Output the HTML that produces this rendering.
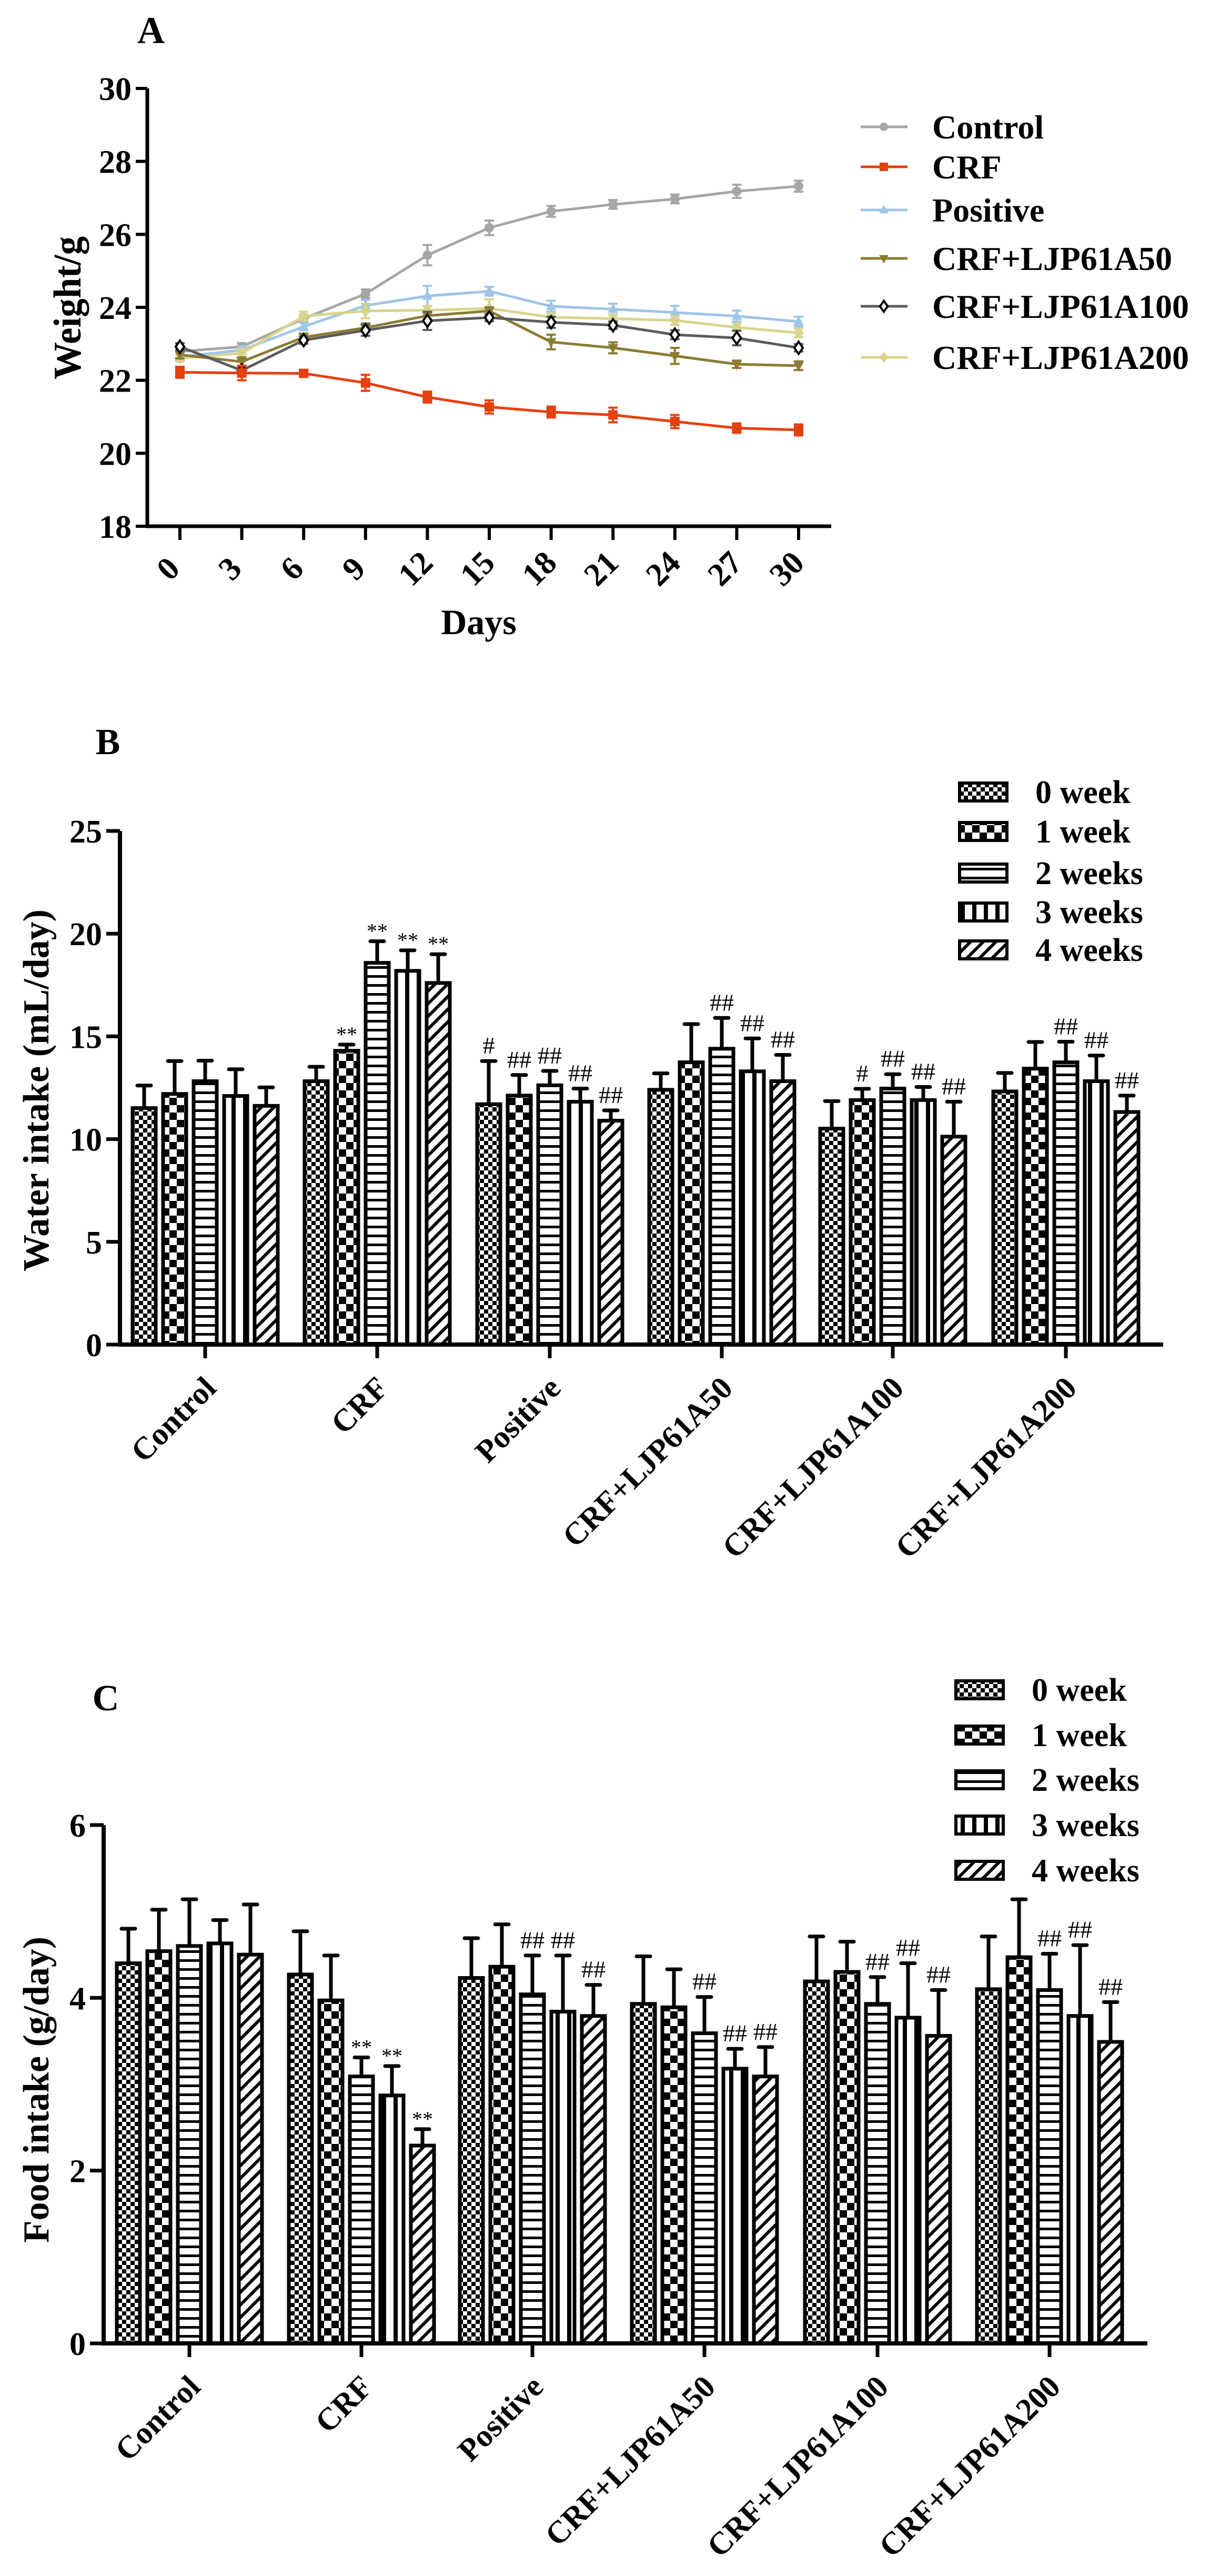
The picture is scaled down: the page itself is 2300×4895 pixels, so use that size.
<!DOCTYPE html>
<html><head><meta charset="utf-8"><style>
html,body{margin:0;padding:0;background:#fff}
svg{display:block}
text{font-family:"Liberation Serif",serif;font-weight:bold;fill:#000}
</style></head><body>
<svg id="fig" xmlns="http://www.w3.org/2000/svg" width="2300" height="4895" viewBox="0 0 2300 4895">
<defs>
<pattern id="p0" patternUnits="userSpaceOnUse" width="16" height="16"><rect width="16" height="16" fill="#fff"/><rect width="8" height="8" fill="#000"/><rect x="8" y="8" width="8" height="8" fill="#000"/></pattern>
<pattern id="p1" patternUnits="userSpaceOnUse" width="28" height="28"><rect width="28" height="28" fill="#fff"/><rect width="14" height="14" fill="#000"/><rect x="14" y="14" width="14" height="14" fill="#000"/></pattern>
<pattern id="p2" patternUnits="userSpaceOnUse" width="17" height="17"><rect width="17" height="17" fill="#fff"/><rect width="17" height="5" fill="#000"/></pattern>
<pattern id="p3" patternUnits="userSpaceOnUse" width="22" height="22"><rect width="22" height="22" fill="#fff"/><rect width="8" height="22" fill="#000"/></pattern>
<pattern id="p4" patternUnits="userSpaceOnUse" width="17" height="17" patternTransform="rotate(45)"><rect width="17" height="17" fill="#fff"/><rect width="6" height="17" fill="#000"/></pattern>
</defs>
</svg>
<script>
// ---------- Panel A data ----------
const daysA = [0,3,6,9,12,15,18,21,24,27,30];
const yTicksA = [18,20,22,24,26,28,30];
const seriesNamesA = ["Control","CRF","Positive","CRF+LJP61A50","CRF+LJP61A100","CRF+LJP61A200"];
const controlA = [22.79,22.92,23.69,24.37,25.43,26.18,26.63,26.82,26.97,27.18,27.32];
const crfA = [22.22,22.20,22.19,21.93,21.54,21.27,21.13,21.05,20.87,20.69,20.64];
const positiveA = [22.64,22.83,23.47,24.05,24.31,24.44,24.03,23.95,23.86,23.76,23.61];
const a50A = [22.70,22.51,23.18,23.44,23.77,23.90,23.05,22.89,22.67,22.44,22.40];
const a100A = [22.92,22.27,23.10,23.37,23.63,23.72,23.59,23.51,23.25,23.16,22.89];
const a200A = [22.61,22.74,23.76,23.90,23.92,23.97,23.73,23.69,23.64,23.45,23.30];
const controlErrA = [0.08,0.1,0.1,0.12,0.28,0.2,0.15,0.12,0.12,0.18,0.15];
const crfErrA = [0.15,0.2,0.08,0.22,0.15,0.18,0.15,0.2,0.18,0.13,0.15];
const positiveErrA = [0.1,0.1,0.1,0.15,0.28,0.12,0.15,0.15,0.18,0.15,0.13];
const a50ErrA = [0.1,0.12,0.1,0.12,0.1,0.1,0.2,0.15,0.22,0.1,0.12];
const a100ErrA = [0.1,0.12,0.1,0.15,0.25,0.1,0.15,0.1,0.12,0.2,0.1];
const a200ErrA = [0.1,0.12,0.12,0.2,0.12,0.25,0.1,0.1,0.12,0.1,0.12];

// ---------- Panel B/C shared ----------
const groups = ["Control","CRF","Positive","CRF+LJP61A50","CRF+LJP61A100","CRF+LJP61A200"];
const weeks = ["0 week","1 week","2 weeks","3 weeks","4 weeks"];

// ---------- Panel B data (rows = group, cols = week) ----------
const yTicksB = [0,5,10,15,20,25];
const waterB = [
 [11.51,12.2,12.82,12.1,11.62],
 [12.82,14.3,18.58,18.19,17.6],
 [11.7,12.12,12.62,11.82,10.9],
 [12.4,13.74,14.4,13.3,12.82],
 [10.51,11.9,12.46,11.9,10.12],
 [12.32,13.43,13.74,12.82,11.32]];
const waterErrB = [
 [1.1,1.6,1.0,1.3,0.9],
 [0.7,0.3,1.05,1.0,1.4],
 [2.1,1.0,0.7,0.64,0.5],
 [0.8,1.86,1.5,1.6,1.28],
 [1.34,0.55,0.7,0.64,1.7],
 [0.9,1.3,1.0,1.25,0.8]];
const waterSigB = [
 ["","","","",""],
 ["","**","**","**","**"],
 ["#","##","##","##","##"],
 ["","","##","##","##"],
 ["","#","##","##","##"],
 ["","","##","##","##"]];

// ---------- Panel C data ----------
const yTicksC = [0,2,4,6];
const foodC = [
 [4.4,4.54,4.6,4.63,4.5],
 [4.27,3.97,3.09,2.87,2.29],
 [4.23,4.36,4.04,3.84,3.79],
 [3.93,3.89,3.59,3.18,3.09],
 [4.19,4.3,3.93,3.77,3.56],
 [4.1,4.47,4.09,3.79,3.49]];
const foodErrC = [
 [0.4,0.48,0.54,0.27,0.58],
 [0.5,0.52,0.22,0.34,0.19],
 [0.46,0.49,0.45,0.65,0.36],
 [0.55,0.44,0.42,0.23,0.34],
 [0.52,0.35,0.31,0.63,0.53],
 [0.61,0.67,0.42,0.82,0.46]];
const foodSigC = [
 ["","","","",""],
 ["","","**","**","**"],
 ["","","##","##","##"],
 ["","","##","##","##"],
 ["","","##","##","##"],
 ["","","##","##","##"]];

const NS = "http://www.w3.org/2000/svg";
const svg = document.getElementById('fig');
function el(tag, attrs, parent, txt){
  const e = document.createElementNS(NS, tag);
  for (const k in attrs) e.setAttribute(k, attrs[k]);
  if (txt !== undefined) e.textContent = txt;
  (parent || svg).appendChild(e);
  return e;
}

// ================= PANEL A =================
(function(){
  const g = el('g', {});
  
  
  const x0=280, x1=1580, yTop=168, yBot=1000, ymin=18, ymax=30;
  const dx0=342, dx1=1518;
  const X = d => dx0 + (d - daysA[0])/(daysA[daysA.length-1]-daysA[0])*(dx1-dx0);
  const Y = v => yBot - (v-ymin)/(ymax-ymin)*(yBot-yTop);
  let t = el('text',{x:287,y:82,'font-size':72,'text-anchor':'middle'},g,'A');
   
  let ax = el('path',{d:`M${x0} ${yTop} V${yBot} H${x1}`,stroke:'#000','stroke-width':7,fill:'none'},g);
   
  yTicksA.forEach(v=>{
    el('line',{x1:x0-22,x2:x0,y1:Y(v),y2:Y(v),stroke:'#000','stroke-width':6},g);
    const tt = el('text',{x:x0-30,y:Y(v)+22,'font-size':62,'text-anchor':'end'},g,String(v));
     
  });
  daysA.forEach(d=>{
    el('line',{x1:X(d),x2:X(d),y1:yBot,y2:yBot+26,stroke:'#000','stroke-width':6},g);
    const tt = el('text',{x:0,y:0,'font-size':62,'text-anchor':'middle',transform:`translate(${X(d)-8},${yBot+95}) rotate(-45)`},g,String(d));
     
  });
  t = el('text',{x:0,y:0,'font-size':74,'text-anchor':'middle',textLength:272,lengthAdjust:'spacingAndGlyphs',transform:'translate(153,585) rotate(-90)'},g,'Weight/g');
   
  t = el('text',{x:910,y:1205,'font-size':68,'text-anchor':'middle'},g,'Days');
   

  const vals=[controlA,crfA,positiveA,a50A,a100A,a200A];
  const errs=[controlErrA,crfErrA,positiveErrA,a50ErrA,a100ErrA,a200ErrA];
  const colors=['#a6a6a6','#e5400f','#9fc5e8','#8c7b32','#5b5b5b','#d8d48e'];
  const shapes=['circle','square','tri','tridown','diamondOpen','diamond'];
  const drawOrder=[0,2,5,3,4,1];
  function marker(parent,shape,cx,cy,col,s){
    let m;
    if(shape==='circle') m=el('circle',{cx,cy,r:s,fill:col},parent);
    else if(shape==='square') m=el('rect',{x:cx-s,y:cy-s,width:2*s,height:2*s,fill:col},parent);
    else if(shape==='tri') m=el('path',{d:`M${cx} ${cy-s*1.2} L${cx+s*1.1} ${cy+s*0.8} L${cx-s*1.1} ${cy+s*0.8}Z`,fill:col},parent);
    else if(shape==='tridown') m=el('path',{d:`M${cx} ${cy+s*1.2} L${cx+s*1.1} ${cy-s*0.8} L${cx-s*1.1} ${cy-s*0.8}Z`,fill:col},parent);
    else if(shape==='diamondOpen') m=el('path',{d:`M${cx} ${cy-s*1.3} L${cx+s*0.9} ${cy} L${cx} ${cy+s*1.3} L${cx-s*0.9} ${cy}Z`,fill:'#fff',stroke:'#000','stroke-width':4},parent);
    else m=el('path',{d:`M${cx} ${cy-s*1.3} L${cx+s*1.1} ${cy} L${cx} ${cy+s*1.3} L${cx-s*1.1} ${cy}Z`,fill:col},parent);
    return m;
  }
  drawOrder.forEach(si=>{
    const sg = el('g',{},g);
    
    
    const col=colors[si];
    const pts = daysA.map((d,i)=>`${X(d)},${Y(vals[si][i])}`).join(' ');
    el('polyline',{points:pts,fill:'none',stroke:col,'stroke-width':5},sg);
    daysA.forEach((d,i)=>{
      const v=vals[si][i], e=errs[si][i];
      el('path',{d:`M${X(d)} ${Y(v+e)} V${Y(v-e)} M${X(d)-9} ${Y(v+e)} H${X(d)+9} M${X(d)-9} ${Y(v-e)} H${X(d)+9}`,stroke:col,'stroke-width':4,fill:'none'},sg);
      const m = marker(sg,shapes[si],X(d),Y(v),col,9);
       
    });
  });
  const legY=[241,317,399,491,582,679];
  seriesNamesA.forEach((n,i)=>{
    const lg = el('g',{},g);
     
    el('line',{x1:1636,x2:1725,y1:legY[i],y2:legY[i],stroke:colors[i],'stroke-width':5},lg);
    marker(lg,shapes[i],1680,legY[i],colors[i],8);
    el('text',{x:1772,y:legY[i]+22,'font-size':64},lg,n);
  });
})();

// ================= BAR PANELS =================
function barPanel(cfg){
  const g = el('g',{});
  
  
  const {axX, axEnd, y0, yTop, vmax, ticks, centers, vals, errs, sigs} = cfg;
  const Y = v => y0 - v/vmax*(y0-yTop);
  let t = el('text',{x:cfg.letter[1],y:cfg.letter[2],'font-size':70,'text-anchor':'middle'},g,cfg.letter[0]);
   
  const pats=['p0','p1','p2','p3','p4'];
  const spacing=58, bw=44;
  vals.forEach((row,gi)=>{
    row.forEach((v,wi)=>{
      const cx = centers[gi] + (wi-2)*spacing;
      const top=Y(v), et=Y(v+errs[gi][wi]);
      const eb = el('path',{d:`M${cx} ${top} V${et} M${cx-13} ${et} H${cx+13}`,stroke:'#000','stroke-width':7,fill:'none','stroke-linecap':'round'},g);
       
      const r = el('rect',{x:cx-bw/2,y:top,width:bw,height:y0-top,fill:`url(#${pats[wi]})`,stroke:'#000','stroke-width':7},g);
      
      
      if(sigs[gi][wi]){
        const st = sigs[gi][wi].indexOf('*')>=0;
        const s = el('text',{x:cx,y:et-(st?6:14),'font-size':st?40:46,'text-anchor':'middle',style:'font-weight:normal'},g,sigs[gi][wi]);
         
      }
    });
  });
  const ax = el('path',{d:`M${axX} ${yTop} V${y0} H${axEnd}`,stroke:'#000','stroke-width':8,fill:'none'},g);
   
  ticks.forEach(v=>{
    el('line',{x1:axX-26,x2:axX,y1:Y(v),y2:Y(v),stroke:'#000','stroke-width':7},g);
    const tt = el('text',{x:axX-34,y:Y(v)+22,'font-size':62,'text-anchor':'end'},g,String(v));
     
  });
  groups.forEach((n,gi)=>{
    el('line',{x1:centers[gi],x2:centers[gi],y1:y0,y2:y0+26,stroke:'#000','stroke-width':7},g);
    const tt = el('text',{x:0,y:0,'font-size':60,'text-anchor':'end',transform:`translate(${centers[gi]+24},${y0+86}) rotate(-45)`},g,n);
     
  });
  t = el('text',{x:0,y:0,'font-size':70,'text-anchor':'middle',textLength:cfg.titleLen,lengthAdjust:'spacingAndGlyphs',transform:`translate(92,${cfg.titleY}) rotate(-90)`},g,cfg.title);
   
  weeks.forEach((w,wi)=>{
    const lg = el('g',{},g);
     
    const ly = cfg.legY[wi];
    el('rect',{x:cfg.legX,y:ly-17,width:90,height:34,fill:`url(#${pats[wi]})`,stroke:'#000','stroke-width':6},lg);
    el('text',{x:cfg.legX+144,y:ly+21,'font-size':62},lg,w);
  });
}
barPanel({name:'water-intake-chart',axX:228,axEnd:2211,y0:2555,yTop:1579,vmax:25,ticks:yTicksB,
  centers:[390,717,1045,1372,1697,2026],vals:waterB,errs:waterErrB,sigs:waterSigB,
  letter:['B',205,1433],title:'Water intake (mL/day)',titleY:2072,titleLen:688,legX:1824,legY:[1505,1580,1659,1733,1805]});
barPanel({name:'food-intake-chart',axX:197,axEnd:2181,y0:4453,yTop:3468,vmax:6,ticks:yTicksC,
  centers:[360,687,1012,1339,1668,1995],vals:foodC,errs:foodErrC,sigs:foodSigC,
  letter:['C',201,3250],title:'Food intake (g/day)',titleY:3971,titleLen:582,legX:1817,legY:[3211,3297,3382,3468,3554]});
</script>
</body></html>
